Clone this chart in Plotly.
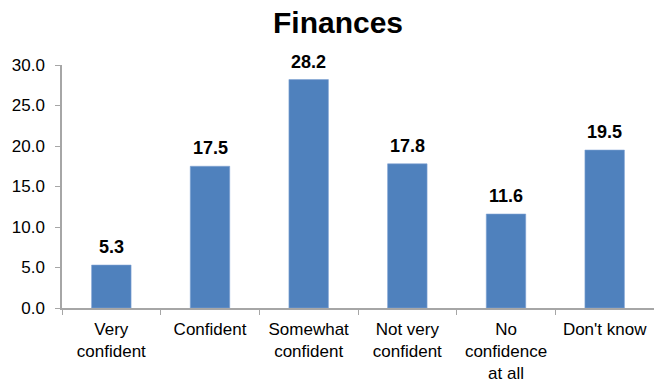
import plotly.graph_objects as go

categories = ["Very<br>confident", "Confident", "Somewhat<br>confident",
              "Not very<br>confident", "No<br>confidence<br>at all", "Don't know"]
values = [5.3, 17.5, 28.2, 17.8, 11.6, 19.5]
y_ticks = [0, 5, 10, 15, 20, 25, 30]

bar_color = "#4F81BD"
axis_color = "#A6A6A6"
font_family = "Liberation Sans, Arial, sans-serif"

fig = go.Figure()
fig.add_trace(go.Bar(
    x=categories,
    y=values,
    width=0.4,
    marker=dict(color=bar_color, line=dict(color="#7FA3D3", width=0.6)),
    hoverinfo="x+y",
))

# value labels above each bar
for c, v in zip(categories, values):
    fig.add_annotation(
        x=c, y=v, text=f"<b>{v:.1f}</b>", showarrow=False,
        yanchor="bottom", yshift=6,
        font=dict(family=font_family, size=18, color="#000000"),
    )

fig.update_layout(
    width=654, height=385,
    margin=dict(l=62, r=0, t=65, b=77),
    paper_bgcolor="white", plot_bgcolor="white",
    showlegend=False,
    bargap=0.6,
    title=dict(
        text="<b>Finances</b>", x=338 / 654, xref="container", xanchor="center",
        y=1 - 22 / 385, yref="container", yanchor="middle",
        font=dict(family=font_family, size=30, color="#000000"),
    ),
    font=dict(family=font_family, size=17, color="#000000"),
)

fig.update_xaxes(
    type="category", range=[-0.5, 5.5],
    showline=True, linecolor=axis_color, linewidth=1.5,
    ticks="outside", tickson="boundaries", ticklen=5, tickcolor=axis_color,
    showgrid=False, zeroline=False, ticklabelstandoff=5,
    tickfont=dict(family=font_family, size=17, color="#000000"),
)
fig.update_yaxes(
    range=[0, 30], tickvals=y_ticks, tickformat=".1f",
    showline=True, linecolor=axis_color, linewidth=1.5,
    ticks="outside", ticklen=5, tickcolor=axis_color,
    showgrid=False, zeroline=False, ticklabelstandoff=7,
    tickfont=dict(family=font_family, size=17, color="#000000"),
)

fig.write_html("out.html")
